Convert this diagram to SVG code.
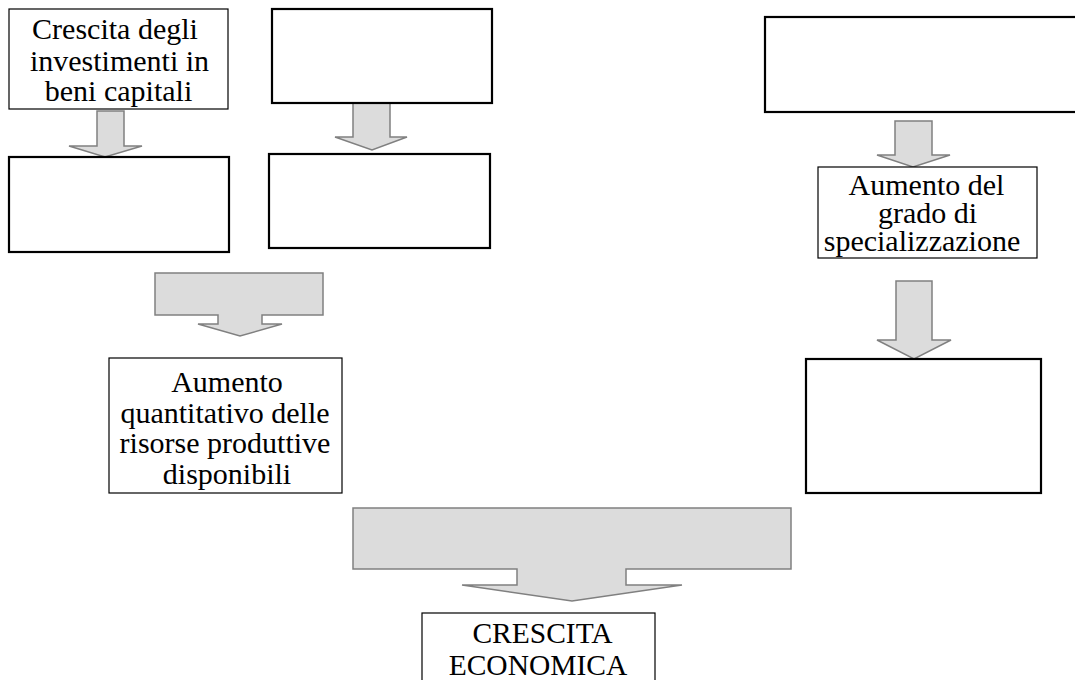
<svg xmlns="http://www.w3.org/2000/svg" width="1075" height="680" viewBox="0 0 1075 680">
<style>
.box{fill:#fff;stroke:#000;stroke-width:1.2}
.thick{stroke-width:2.2}
.arr{fill:#dcdcdc;stroke:#808080;stroke-width:1.5;stroke-linejoin:miter}
text{font-family:"Liberation Serif","Times New Roman",serif;font-size:30px;fill:#000;text-anchor:middle}
.caps{font-size:29.5px}
</style>
<rect width="1075" height="680" fill="#fff"/>
<g id="connectors">
<path class="arr" d="M97,111 H124 V146 H142 L105,157 L69,146 H97 Z"/>
<path class="arr" d="M353,103 H390 V137 H407 L372,150 L335,137 H353 Z"/>
<path class="arr" d="M895,121 H932 V155 H950 L913,167 L877,155 H895 Z"/>
<path class="arr" d="M896,281 H932 V340 H951 L914,359 L877,340 H896 Z"/>
<path class="arr" d="M155,273 H323 V315 H262 V324 H282 L240,336 L198,324 H218 V315 H155 Z"/>
<path class="arr" d="M353,508 H791 V569 H626 V585 H682 L572,601 L462,585 H517 V569 H353 Z"/>
</g>
<g id="n-investimenti">
<rect class="box" x="9" y="9" width="219" height="100"/>
<text x="115" y="39">Crescita degli</text>
<text x="119.5" y="71">investimenti in</text>
<text x="118.5" y="101">beni capitali</text>
</g>
<g id="n-empty1"><rect class="box thick" x="9" y="157" width="220" height="95"/></g>
<g id="n-empty2"><rect class="box thick" x="272" y="9" width="220" height="94"/></g>
<g id="n-empty3"><rect class="box thick" x="269" y="154" width="221" height="94"/></g>
<g id="n-empty4"><rect class="box thick" x="765" y="17" width="320" height="95"/></g>
<g id="n-empty5"><rect class="box thick" x="806" y="359" width="235" height="134"/></g>
<g id="n-specializzazione">
<rect class="box" x="818" y="167" width="219" height="91"/>
<text x="926.5" y="195">Aumento del</text>
<text x="927.5" y="223">grado di</text>
<text x="922" y="251">specializzazione</text>
</g>
<g id="n-risorse">
<rect class="box" x="109" y="358" width="233" height="135"/>
<text x="227" y="392">Aumento</text>
<text x="225" y="423">quantitativo delle</text>
<text x="225" y="453">risorse produttive</text>
<text x="227" y="484">disponibili</text>
</g>
<g id="n-crescita">
<rect class="box" x="422" y="613" width="233" height="80"/>
<text class="caps" x="542.5" y="643">CRESCITA</text>
<text class="caps" x="538" y="675">ECONOMICA</text>
</g>
</svg>
